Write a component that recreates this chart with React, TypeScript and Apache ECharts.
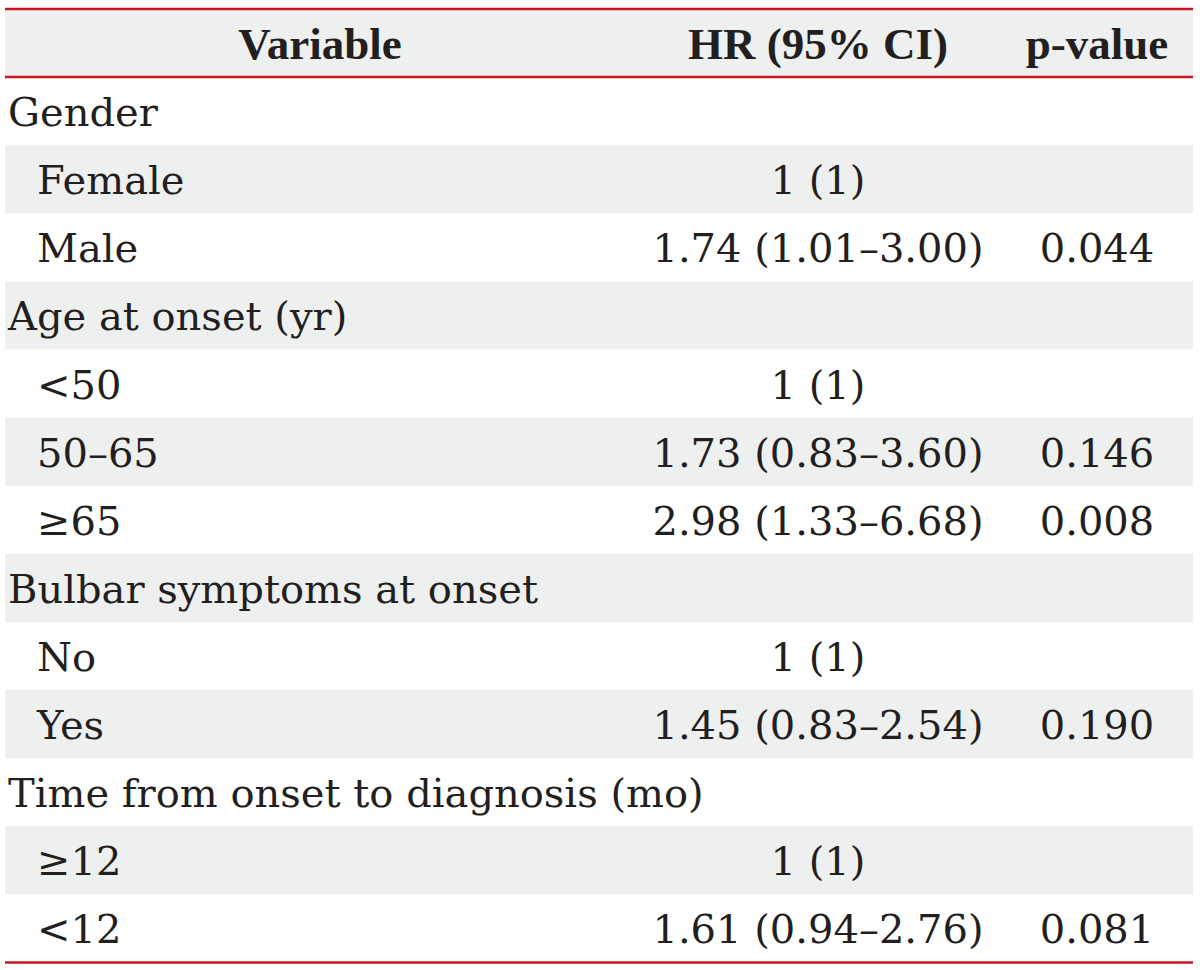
import React, { useEffect, useRef } from "react";
import * as echarts from "echarts";

const headers = ["Variable", "HR (95% CI)", "p-value"];
const variables = [
  "Gender", "Female", "Male",
  "Age at onset (yr)", "<50", "50–65", "≥65",
  "Bulbar symptoms at onset", "No", "Yes",
  "Time from onset to diagnosis (mo)", "≥12", "<12",
];
const isGroup = [true, false, false, true, false, false, false, true, false, false, true, false, false];
const hrValues = ["", "1 (1)", "1.74 (1.01–3.00)", "", "1 (1)", "1.73 (0.83–3.60)", "2.98 (1.33–6.68)", "", "1 (1)", "1.45 (0.83–2.54)", "", "1 (1)", "1.61 (0.94–2.76)"];
const pValues = ["", "", "0.044", "", "", "0.146", "0.008", "", "", "0.190", "", "", "0.081"];

export default function App() {
  const ref = useRef<HTMLDivElement>(null);
  useEffect(() => {
    if (!ref.current) return;
    const chart = echarts.init(ref.current, undefined, { renderer: "svg" });
    const left = 5, right = 1193, top = 9, rowH = 68.1;
    const red = "#c8161d", gray = "#eeefef", ink = "#231f20";
    const bodyFont = "40px 'DejaVu Serif'";
    const headFont = "bold 45px 'Liberation Serif'";
    const colHR = 818, colP = 1097;
    const els: any[] = [];
    els.push({ type: "rect", shape: { x: left, y: top, width: right - left, height: rowH }, style: { fill: gray } });
    variables.forEach((_, i) => {
      if (i % 2 === 1) {
        els.push({ type: "rect", shape: { x: left, y: top + rowH * (i + 1), width: right - left, height: rowH }, style: { fill: gray } });
      }
    });
    const bottom = top + rowH * (variables.length + 1);
    [top, top + rowH, bottom].forEach((y) => {
      els.push({ type: "line", shape: { x1: left, y1: y, x2: right, y2: y }, style: { stroke: red, lineWidth: 2.5 } });
    });
    const txt = (text: string, x: number, y: number, align: string, font: string) => ({
      type: "text", x, y,
      style: { text, font, fill: ink, textAlign: align, textVerticalAlign: "middle", align, verticalAlign: "middle" },
    });
    const hy = top + rowH / 2 + 1;
    els.push(txt(headers[0], 320, hy, "center", headFont));
    els.push(txt(headers[1], colHR, hy, "center", headFont));
    els.push(txt(headers[2], colP, hy, "center", headFont));
    variables.forEach((v, i) => {
      const y = top + rowH * (i + 1) + rowH / 2 + 1;
      els.push(txt(v, isGroup[i] ? 8 : 37, y, "left", bodyFont));
      if (hrValues[i]) els.push(txt(hrValues[i], colHR, y, "center", bodyFont));
      if (pValues[i]) els.push(txt(pValues[i], colP, y, "center", bodyFont));
    });
    chart.setOption({ animation: false, graphic: { elements: els } });
    return () => chart.dispose();
  }, []);
  return <div ref={ref} style={{ position: "fixed", left: 0, top: 0, width: 1200, height: 970, background: "#fff" }} />;
}
